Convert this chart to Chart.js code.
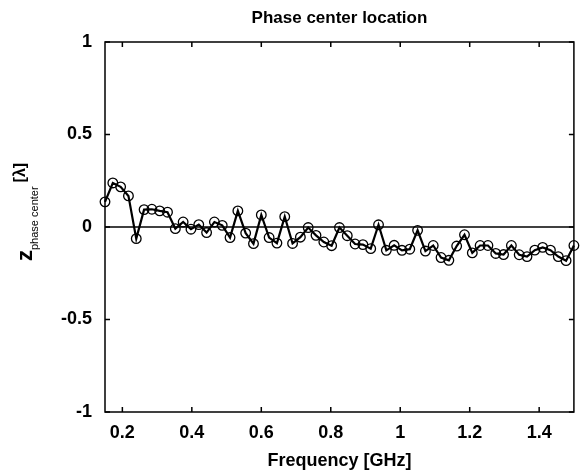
<!DOCTYPE html>
<html>
<head>
<meta charset="utf-8">
<script src="https://cdn.jsdelivr.net/npm/chart.js@4/dist/chart.umd.min.js"></script>
<style>
  body { margin: 0; background: #fff; }
  #wrap { width: 580px; height: 472px; }
</style>
</head>
<body>
<div id="wrap"><canvas id="chart" width="580" height="472"></canvas></div>
<script>
const freqGHz = [0.15, 0.1725, 0.195, 0.2175, 0.24, 0.2625, 0.285, 0.3075, 0.33, 0.3525,
    0.375, 0.3975, 0.42, 0.4425, 0.465, 0.4875, 0.51, 0.5325, 0.555, 0.5775,
    0.6, 0.6225, 0.645, 0.6675, 0.69, 0.7125, 0.735, 0.7575, 0.78, 0.8025,
    0.825, 0.8475, 0.87, 0.8925, 0.915, 0.9375, 0.96, 0.9825, 1.005, 1.0275,
    1.05, 1.0725, 1.095, 1.1175, 1.14, 1.1625, 1.185, 1.2075, 1.23, 1.2525,
    1.275, 1.2975, 1.32, 1.3425, 1.365, 1.3875, 1.41, 1.4325, 1.455, 1.4775, 1.5]
const zPhaseCenter = [0.136, 0.238, 0.217, 0.168, -0.063, 0.094, 0.096, 0.087, 0.080, -0.009,
    0.027, -0.012, 0.013, -0.030, 0.027, 0.009, -0.057, 0.087, -0.033, -0.090,
    0.065, -0.057, -0.087, 0.056, -0.089, -0.055, -0.003, -0.045, -0.081, -0.101,
    -0.003, -0.047, -0.092, -0.095, -0.117, 0.012, -0.126, -0.099, -0.126, -0.120,
    -0.018, -0.130, -0.100, -0.165, -0.180, -0.103, -0.042, -0.140, -0.100, -0.100,
    -0.143, -0.149, -0.100, -0.150, -0.160, -0.125, -0.110, -0.125, -0.160, -0.182, -0.100]
const xTicks = [0.2, 0.4, 0.6, 0.8, 1, 1.2, 1.4]
const yTicks = [-1, -0.5, 0, 0.5, 1]

const FONT = '"Liberation Sans", Arial, sans-serif'

const framePlugin = {
    id: 'frame',
    beforeDatasetsDraw(chart) {
        const { ctx, chartArea: a, scales } = chart
        const y0 = scales.y.getPixelForValue(0)
        ctx.save()
        ctx.strokeStyle = '#000'
        ctx.lineWidth = 1.5
        ctx.beginPath()
        ctx.moveTo(a.left, y0)
        ctx.lineTo(a.right, y0)
        ctx.stroke()
        ctx.restore()
    },
    afterDraw(chart) {
        const { ctx, chartArea: a, scales } = chart
        ctx.save()
        ctx.strokeStyle = '#000'
        ctx.lineWidth = 1.5
        ctx.strokeRect(a.left, a.top, a.right - a.left, a.bottom - a.top)
        ctx.beginPath()
        xTicks.forEach(v => {
            const px = scales.x.getPixelForValue(v)
            ctx.moveTo(px, a.bottom); ctx.lineTo(px, a.bottom - 5)
            ctx.moveTo(px, a.top); ctx.lineTo(px, a.top + 5)
        })
        yTicks.forEach(v => {
            const py = scales.y.getPixelForValue(v)
            ctx.moveTo(a.left, py); ctx.lineTo(a.left + 5, py)
            ctx.moveTo(a.right, py); ctx.lineTo(a.right - 5, py)
        })
        ctx.stroke()

        // title
        ctx.fillStyle = '#000'
        ctx.textAlign = 'center'
        ctx.textBaseline = 'middle'
        ctx.font = 'bold 17px ' + FONT
        ctx.fillText('Phase center location', (a.left + a.right) / 2, 18)

        // y axis title: z_{phase center} [λ]
        ctx.translate(32, 261)
        ctx.rotate(-Math.PI / 2)
        ctx.textAlign = 'left'
        ctx.textBaseline = 'alphabetic'
        ctx.font = 'bold 22px ' + FONT
        ctx.fillText('z', 0, 0)
        let x = ctx.measureText('z').width
        ctx.font = '11px ' + FONT
        ctx.fillText('phase center', x, 6)
        x += ctx.measureText('phase center').width + 4
        ctx.font = 'bold 16px ' + FONT
        ctx.fillText('[λ]', x, -7)
        ctx.restore()
    }
}

new Chart(document.getElementById('chart').getContext('2d'), {
    type: 'line',
    data: {
        datasets: [{
            data: freqGHz.map((f, i) => ({ x: f, y: zPhaseCenter[i] })),
            borderColor: '#000',
            borderWidth: 2.2,
            pointRadius: 4.8,
            pointBorderWidth: 1.3,
            pointBorderColor: '#000',
            pointBackgroundColor: 'rgba(255,255,255,0)',
            tension: 0,
            clip: false
        }]
    },
    options: {
        responsive: false,
        animation: false,
        devicePixelRatio: 1,
        layout: { padding: { top: 42, right: 2, left: 0, bottom: 0 } },
        plugins: { legend: { display: false }, tooltip: { enabled: false } },
        scales: {
            x: {
                type: 'linear',
                min: 0.15,
                max: 1.5,
                afterBuildTicks: s => { s.ticks = xTicks.map(v => ({ value: v })) },
                afterFit: s => { s.height = 60 },
                grid: { display: false, drawTicks: false },
                border: { display: false },
                ticks: {
                    color: '#000',
                    padding: 10,
                    maxRotation: 0,
                    font: { family: FONT, size: 18, weight: 'bold' },
                    callback: v => String(v)
                },
                title: {
                    display: true,
                    text: 'Frequency [GHz]',
                    color: '#000',
                    padding: { top: 3, bottom: 0 },
                    font: { family: FONT, size: 18, weight: 'bold' }
                }
            },
            y: {
                min: -1,
                max: 1,
                afterBuildTicks: s => { s.ticks = yTicks.map(v => ({ value: v })) },
                afterFit: s => { s.width = 105 },
                grid: { display: false, drawTicks: false },
                border: { display: false },
                ticks: {
                    color: '#000',
                    padding: 13,
                    font: { family: FONT, size: 18, weight: 'bold' },
                    callback: v => String(v)
                }
            }
        }
    },
    plugins: [framePlugin]
})
</script>
</body>
</html>
